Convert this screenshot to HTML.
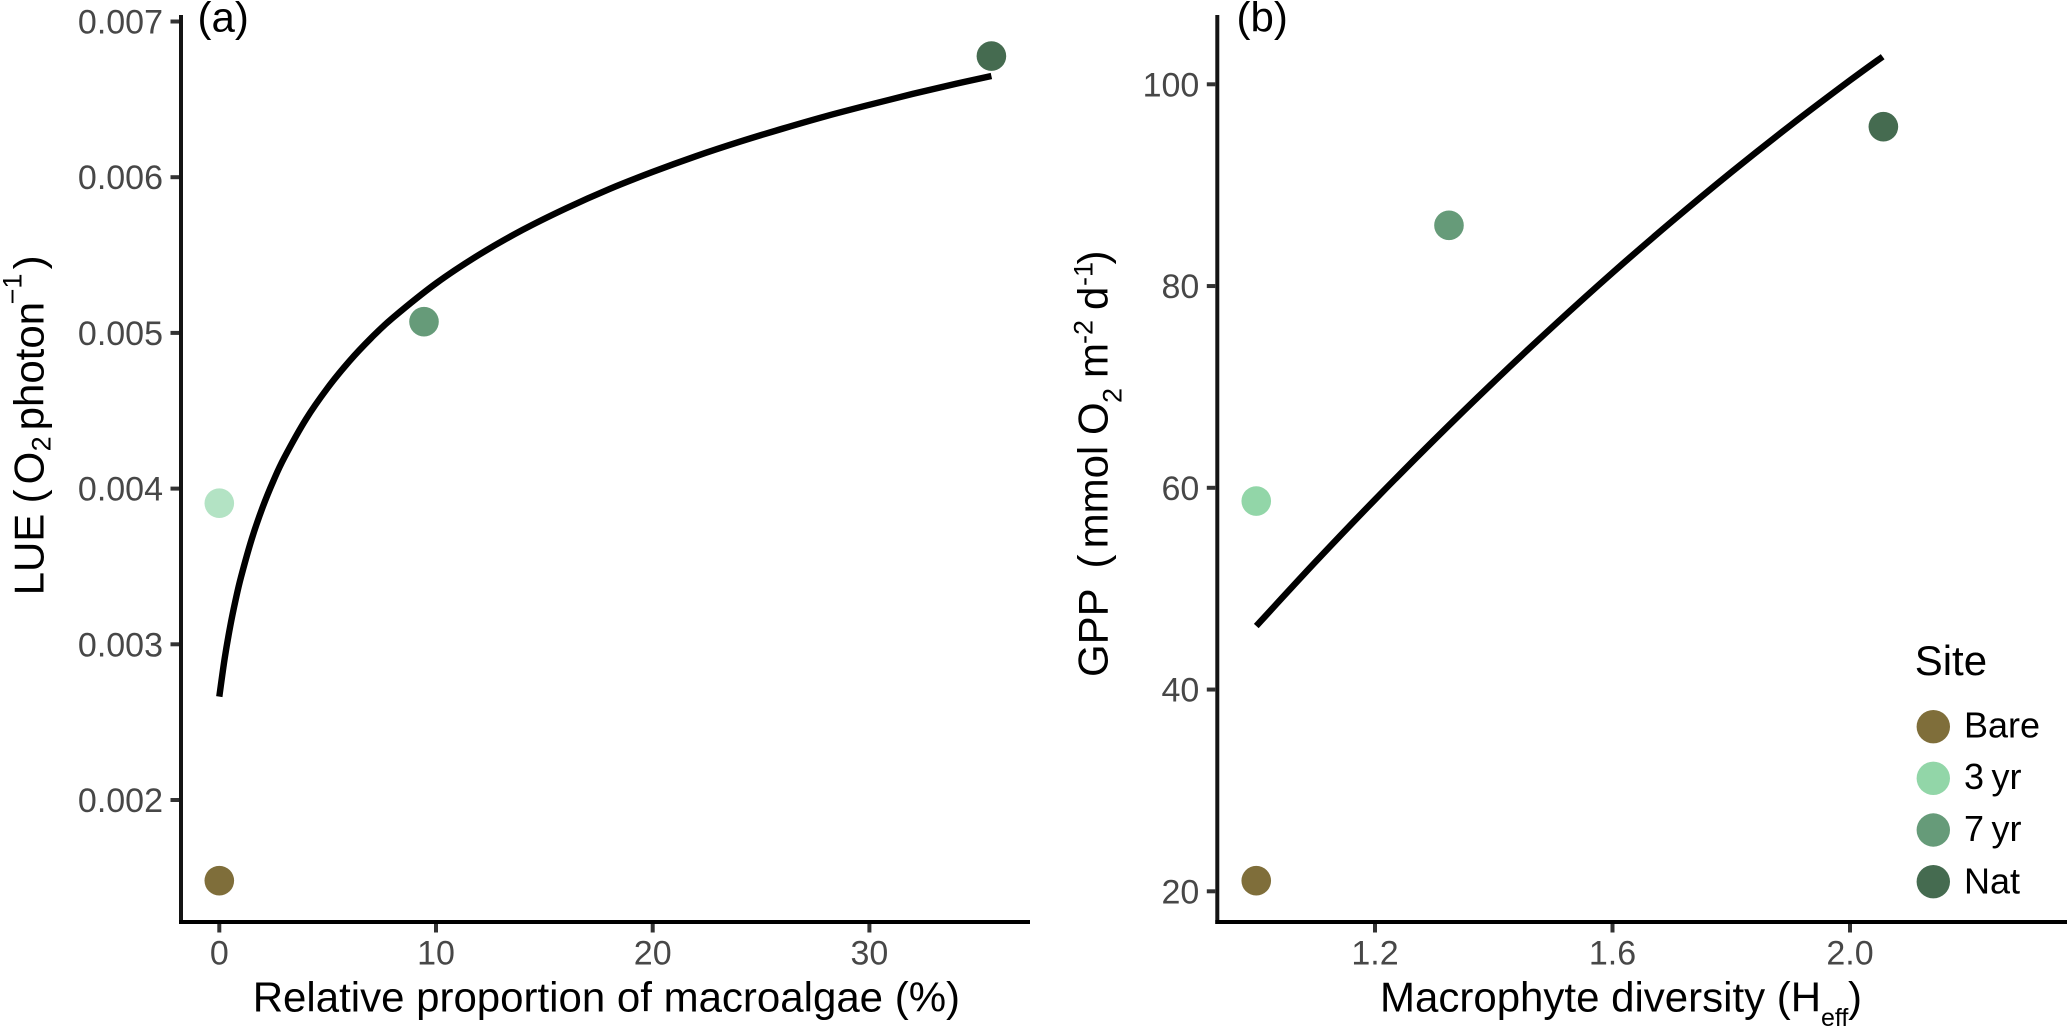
<!DOCTYPE html>
<html lang="en">
<head>
<meta charset="utf-8">
<title>LUE and GPP charts</title>
<style>
html,body{margin:0;padding:0;background:#fff;width:2067px;height:1027px;overflow:hidden}
svg{display:block;font-family:"Liberation Sans",Arial,sans-serif}
.title{font-size:42px;fill:#000}
.sub{font-size:27px;fill:#000}
.tick{font-size:34px;fill:#474747}
.leg{font-size:36px;fill:#000;word-spacing:-2.5px}
</style>
</head>
<body>
<svg id="chart" width="2067" height="1027" viewBox="0 0 2067 1027" xmlns="http://www.w3.org/2000/svg">
  <rect x="0" y="0" width="2067" height="1027" fill="#fff"/>
  <g id="panel-a"></g>
  <g id="panel-b"></g>

  <text class="title" x="197.5" y="31.5">(a)</text>
  <text class="title" x="1236.5" y="31.5">(b)</text>

  <text class="title" x="252.7" y="1011.7">Relative proportion of macroalgae (%)</text>
  <g transform="translate(43.3,592.4) rotate(-90)">
    <text class="title" x="-3" y="0">LUE</text>
    <text class="title" x="89" y="0">(</text>
    <text class="title" x="108" y="0">O</text>
    <text class="sub" x="141" y="7">2</text>
    <text class="title" x="162" y="0">photon</text>
    <text class="sub" x="288" y="-21.6">−1</text>
    <text class="title" x="323" y="0">)</text>
  </g>

  <g>
    <text class="title" x="1380" y="1011.7">Macrophyte diversity (H</text>
    <text class="sub" x="1821" y="1026" style="font-size:25px">eff</text>
    <text class="title" x="1848" y="1011.7">)</text>
  </g>
  <g transform="translate(1107.7,675) rotate(-90)">
    <text class="title" x="-2" y="0">GPP</text>
    <text class="title" x="106.5" y="0">(</text>
    <text class="title" x="126.6" y="0">mmol</text>
    <text class="title" x="240" y="0">O</text>
    <text class="sub" x="272" y="14">2</text>
    <text class="title" x="297" y="0">m</text>
    <text class="sub" x="331" y="-15">-2</text>
    <text class="title" x="365" y="0">d</text>
    <text class="sub" x="389" y="-15">-1</text>
    <text class="title" x="410.5" y="0">)</text>
  </g>

  <g id="legend">
    <text class="title" x="1914.7" y="675">Site</text>
    <circle cx="1933.3" cy="726.7" r="16.7" fill="#7f6e3a"/>
    <text class="leg" x="1964" y="737.3">Bare</text>
    <circle cx="1933.3" cy="778.3" r="16.7" fill="#92d6a8"/>
    <text class="leg" x="1964" y="789">3 yr</text>
    <circle cx="1933.3" cy="830" r="16.7" fill="#669b79"/>
    <text class="leg" x="1964" y="841">7 yr</text>
    <circle cx="1933.3" cy="881.7" r="16.7" fill="#456b50"/>
    <text class="leg" x="1964" y="893.3">Nat</text>
  </g>
</svg>

<script>
// Panel (a) data
const sitesA = ['bare', '3yr', '7yr', 'nat'];
const pointsAX = [0, 0, 9.446, 35.63];
const pointsAY = [0.001482, 0.003906, 0.005072, 0.006778];
const curveAX = [0, 0.25, 0.5, 0.75, 1, 1.5, 2, 2.5, 3, 4, 5, 6, 7, 8, 10, 12, 14, 16, 18, 20, 22, 24, 26, 28, 30, 32, 34, 35.63];
const curveAY = [0.002664, 0.002911, 0.003113, 0.003283, 0.003431, 0.003678, 0.00388, 0.004051, 0.004199, 0.004446, 0.004647, 0.004818, 0.004966, 0.005096, 0.005318, 0.005503, 0.005662, 0.0058, 0.005924, 0.006034, 0.006135, 0.006227, 0.006312, 0.006392, 0.006465, 0.006535, 0.0066, 0.00665];
const ticksAX = [0, 10, 20, 30];
const tickLabelsAX = ['0', '10', '20', '30'];
const ticksAY = [0.002, 0.003, 0.004, 0.005, 0.006, 0.007];
const tickLabelsAY = ['0.002', '0.003', '0.004', '0.005', '0.006', '0.007'];
const colorsA = ['#7f6e3a', '#b3e3c4', '#669b79', '#456b50'];

// Panel (b) data
const sitesB = ['bare', '3yr', '7yr', 'nat'];
const pointsBX = [1.0, 1.0, 1.3246, 2.0562];
const pointsBY = [21.05, 58.69, 86.02, 95.8];
const curveBX = [1.0, 1.1, 1.2, 1.3, 1.4, 1.5, 1.6, 1.7, 1.8, 1.9, 2.0, 2.055];
const curveBY = [46.3, 52.67, 58.83, 64.77, 70.5, 76.01, 81.32, 86.4, 91.28, 95.94, 100.39, 102.74];
const ticksBX = [1.2, 1.6, 2.0];
const tickLabelsBX = ['1.2', '1.6', '2.0'];
const ticksBY = [20, 40, 60, 80, 100];
const tickLabelsBY = ['20', '40', '60', '80', '100'];
const colorsB = ['#7f6e3a', '#92d6a8', '#669b79', '#456b50'];

const NS = 'http://www.w3.org/2000/svg';

// Axis functions
function xA(v) { return 219.3 + 21.67 * v; }
function yA(v) { return 800 - 155700 * (v - 0.002); }
function xB(v) { return 1375 + 593.75 * (v - 1.2); }
function yB(v) { return 891.3 - 10.0875 * (v - 20); }

function smoothPath(xs, ys) {
  const p = xs.map(function (x, i) { return [x, ys[i]]; });
  let d = 'M' + p[0][0].toFixed(2) + ' ' + p[0][1].toFixed(2);
  for (let i = 0; i < p.length - 1; i++) {
    const a = p[Math.max(i - 1, 0)];
    const b = p[i];
    const c = p[i + 1];
    const e = p[Math.min(i + 2, p.length - 1)];
    const c1x = b[0] + (c[0] - a[0]) / 6;
    const c1y = b[1] + (c[1] - a[1]) / 6;
    const c2x = c[0] - (e[0] - b[0]) / 6;
    const c2y = c[1] - (e[1] - b[1]) / 6;
    d += 'C' + c1x.toFixed(2) + ' ' + c1y.toFixed(2) + ' ' + c2x.toFixed(2) + ' ' + c2y.toFixed(2) + ' ' + c[0].toFixed(2) + ' ' + c[1].toFixed(2);
  }
  return d;
}

function drawPanel(g, key, sx, sy, axisLeft, axisRight, axisBottom, axisTop, tx, txl, ty, tyl, cx, cy, px, py, colors, sites) {
  const yAxis = document.createElementNS(NS, 'line');
  
  
  yAxis.setAttribute('x1', axisLeft);
  yAxis.setAttribute('x2', axisLeft);
  yAxis.setAttribute('y1', axisTop);
  yAxis.setAttribute('y2', axisBottom + 2);
  yAxis.setAttribute('stroke', '#141414');
  yAxis.setAttribute('stroke-width', '4');
  g.appendChild(yAxis);

  const xAxis = document.createElementNS(NS, 'line');
  
  
  xAxis.setAttribute('x1', axisLeft - 2);
  xAxis.setAttribute('x2', axisRight);
  xAxis.setAttribute('y1', axisBottom);
  xAxis.setAttribute('y2', axisBottom);
  xAxis.setAttribute('stroke', '#000');
  xAxis.setAttribute('stroke-width', '4');
  g.appendChild(xAxis);

  tx.forEach(function (v, i) {
    const t = document.createElementNS(NS, 'line');
    
    
    t.setAttribute('x1', sx(v));
    t.setAttribute('x2', sx(v));
    t.setAttribute('y1', axisBottom + 2);
    t.setAttribute('y2', axisBottom + 10.5);
    t.setAttribute('stroke', '#333');
    t.setAttribute('stroke-width', '4');
    g.appendChild(t);
    const l = document.createElementNS(NS, 'text');
    
    
    l.setAttribute('class', 'tick');
    l.setAttribute('x', sx(v));
    l.setAttribute('y', 964.5);
    l.setAttribute('text-anchor', 'middle');
    l.textContent = txl[i];
    g.appendChild(l);
  });

  ty.forEach(function (v, i) {
    const t = document.createElementNS(NS, 'line');
    
    
    t.setAttribute('x1', axisLeft - 10.5);
    t.setAttribute('x2', axisLeft - 2);
    t.setAttribute('y1', sy(v));
    t.setAttribute('y2', sy(v));
    t.setAttribute('stroke', '#333');
    t.setAttribute('stroke-width', '4');
    g.appendChild(t);
    const l = document.createElementNS(NS, 'text');
    
    
    l.setAttribute('class', 'tick');
    l.setAttribute('x', axisLeft - 18);
    l.setAttribute('y', sy(v) + 12);
    l.setAttribute('text-anchor', 'end');
    l.textContent = tyl[i];
    g.appendChild(l);
  });

  const curve = document.createElementNS(NS, 'path');
  
  
  curve.setAttribute('d', smoothPath(cx.map(sx), cy.map(sy)));
  curve.setAttribute('fill', 'none');
  curve.setAttribute('stroke', '#000');
  curve.setAttribute('stroke-width', '6.4');
  g.appendChild(curve);

  px.forEach(function (v, i) {
    const c = document.createElementNS(NS, 'circle');
    
    
    c.setAttribute('cx', sx(v));
    c.setAttribute('cy', sy(py[i]));
    c.setAttribute('r', 14.8);
    c.setAttribute('fill', colors[i]);
    g.appendChild(c);
  });
}

drawPanel(document.getElementById('panel-a'), 'a', xA, yA, 181, 1030, 922, 15,
  ticksAX, tickLabelsAX, ticksAY, tickLabelsAY, curveAX, curveAY, pointsAX, pointsAY, colorsA, sitesA);
drawPanel(document.getElementById('panel-b'), 'b', xB, yB, 1217.3, 2067, 922, 15,
  ticksBX, tickLabelsBX, ticksBY, tickLabelsBY, curveBX, curveBY, pointsBX, pointsBY, colorsB, sitesB);
</script>
</body>
</html>
